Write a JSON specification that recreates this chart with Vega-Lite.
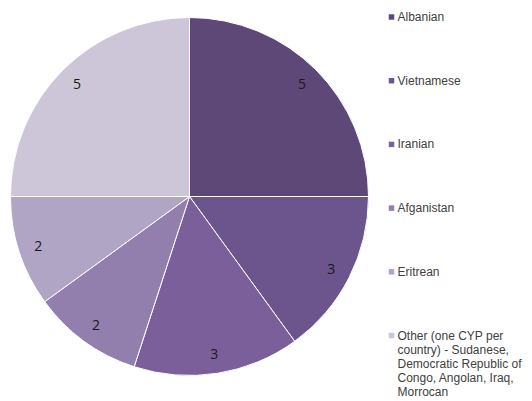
{
  "$schema": "https://vega.github.io/schema/vega-lite/v6.json",
  "width": 379,
  "height": 393,
  "autosize": {"type": "none"},
  "padding": {"left": 0, "top": 0, "right": 153, "bottom": 8},
  "background": "white",
  "data": {
    "values": [
      {"group": "Albanian", "count": 5, "order": 1},
      {"group": "Vietnamese", "count": 3, "order": 2},
      {"group": "Iranian", "count": 3, "order": 3},
      {"group": "Afganistan", "count": 2, "order": 4},
      {"group": "Eritrean", "count": 2, "order": 5},
      {"group": "Other (one CYP per country) - Sudanese, Democratic Republic of Congo, Angolan, Iraq, Morrocan", "count": 5, "order": 6}
    ]
  },
  "encoding": {
    "theta": {"field": "count", "type": "quantitative", "stack": true},
    "order": {"field": "order", "type": "quantitative"},
    "color": {
      "field": "group",
      "type": "nominal",
      "sort": {"field": "order"},
      "scale": {
        "domain": ["Albanian", "Vietnamese", "Iranian", "Afganistan", "Eritrean", "Other (one CYP per country) - Sudanese, Democratic Republic of Congo, Angolan, Iraq, Morrocan"],
        "range": ["#5e4878", "#6c548c", "#7b5f9b", "#927fad", "#b0a5c5", "#cdc5d8"]
      },
      "legend": {
        "title": null,
        "orient": "none",
        "legendX": 385.5,
        "legendY": 11,
        "symbolType": "square",
        "symbolSize": 30,
        "symbolStrokeWidth": 0,
        "labelFont": "Liberation Sans",
        "labelFontSize": 12,
        "labelLineHeight": 14.5,
        "labelColor": "#404040",
        "labelOffset": 0,
        "labelLimit": 200,
        "rowPadding": 51.7,
        "labelBaseline": "middle",
        "labelExpr": "datum.label == 'Albanian' || datum.label == 'Vietnamese' || datum.label == 'Iranian' || datum.label == 'Afganistan' || datum.label == 'Eritrean' ? datum.label : ['Other (one CYP per', 'country) - Sudanese,', 'Democratic Republic of', 'Congo, Angolan, Iraq,', 'Morrocan']"
      }
    }
  },
  "layer": [
    {
      "mark": {"type": "arc", "outerRadius": 179, "stroke": "white", "strokeWidth": 1}
    },
    {
      "mark": {"type": "text", "radius": 159, "dy": 1, "font": "Open Sans", "fontSize": 14},
      "encoding": {
        "text": {"field": "count", "type": "quantitative"},
        "color": {"value": "#1a1a1a"}
      }
    }
  ],
  "config": {"view": {"stroke": null}}
}
